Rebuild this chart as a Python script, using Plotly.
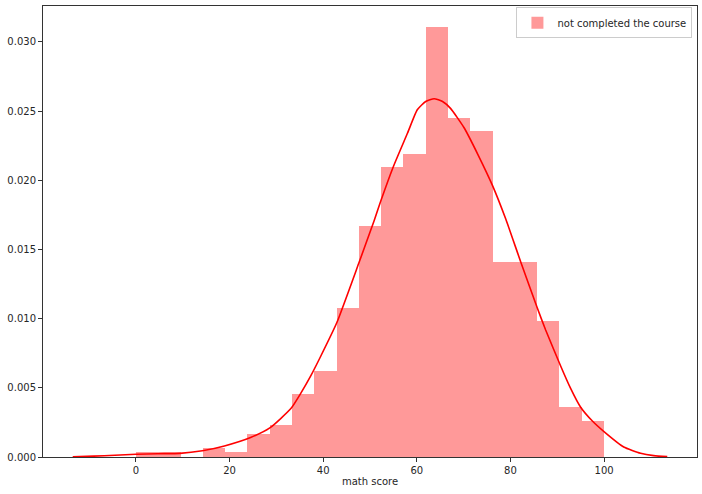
import numpy as np
import plotly.graph_objects as go

# Histogram (density): 21 equal bins between 0 and 100
bin_start = 0
bin_end = 100
n_bins = 21
density = [0.00033, 0.00033, 0.0, 0.00065, 0.00033, 0.00164, 0.00229, 0.00458,
           0.00621, 0.01079, 0.01668, 0.02093, 0.02192, 0.03107, 0.02453, 0.02355,
           0.01407, 0.01407, 0.00981, 0.00360, 0.00262]

# KDE curve points
kde_x = [-13.5, -9.0, -4.5, 0.0, 4.7, 9.4, 14.2, 18.9, 24.5, 28.6, 33.1, 35.2, 37.4,
         39.5, 42.9, 47.6, 50.9, 52.3, 55.0, 58.0, 60.1, 61.9, 63.7, 65.5, 67.2,
         70.1, 73.0, 76.2, 79.0, 82.2, 85.7, 87.5, 90.7, 92.8, 95.0, 97.5, 100.1,
         104.2, 107.8, 110.6, 113.5]
kde_y = [0.00002, 0.00006, 0.00013, 0.0002, 0.00024, 0.00026, 0.00045, 0.0008,
         0.00141, 0.0021, 0.0035, 0.0046, 0.0059, 0.0073, 0.0097, 0.014, 0.0171,
         0.0185, 0.021, 0.0234, 0.0251, 0.0257, 0.0259, 0.0257, 0.0252, 0.0238,
         0.0219, 0.0196, 0.0172, 0.0141, 0.0108, 0.0092, 0.0066, 0.0050, 0.0036,
         0.0026, 0.0018, 0.00072, 0.00027, 0.0001, 0.00003]

x_ticks = [0, 20, 40, 60, 80, 100]
y_ticks = [0.0, 0.005, 0.010, 0.015, 0.020, 0.025, 0.030]

edges = np.linspace(bin_start, bin_end, n_bins + 1)
centers = (edges[:-1] + edges[1:]) / 2
widths = np.diff(edges)

fig = go.Figure()
fig.add_trace(go.Bar(
    x=centers, y=density, width=widths,
    marker=dict(color="rgba(255,0,0,0.4)", line=dict(width=0)),
    name="not completed the course", showlegend=True,
))
fig.add_trace(go.Scatter(
    x=kde_x, y=kde_y, mode="lines",
    line=dict(color="red", width=1.6, shape="spline", smoothing=0.5),
    showlegend=False, hoverinfo="skip",
))

font = dict(family="DejaVu Sans", size=10, color="#262626")
axis_common = dict(
    showline=True, linecolor="#333333", linewidth=1, mirror=True,
    ticks="outside", ticklen=4, tickcolor="#333333", tickwidth=1,
    showgrid=False, zeroline=False, tickfont=font, automargin=False,
)
fig.update_layout(
    width=702, height=494,
    margin=dict(l=43, r=5, t=6, b=37),
    plot_bgcolor="white", paper_bgcolor="white",
    bargap=0, font=font,
    xaxis=dict(range=[-19.85, 119.85], tickvals=x_ticks,
               title=dict(text="math score", font=font, standoff=2), **axis_common),
    yaxis=dict(range=[0, 0.0326], tickvals=y_ticks, tickformat=".3f", **axis_common),
    legend=dict(x=0.993, y=0.997, xanchor="right", yanchor="top",
                bgcolor="rgba(255,255,255,0.8)", bordercolor="#cccccc", borderwidth=1,
                font=font, itemwidth=30, tracegroupgap=0),
)
fig.write_html("out.html", config={"displayModeBar": False},
               post_script="document.body.style.margin='0px';")
